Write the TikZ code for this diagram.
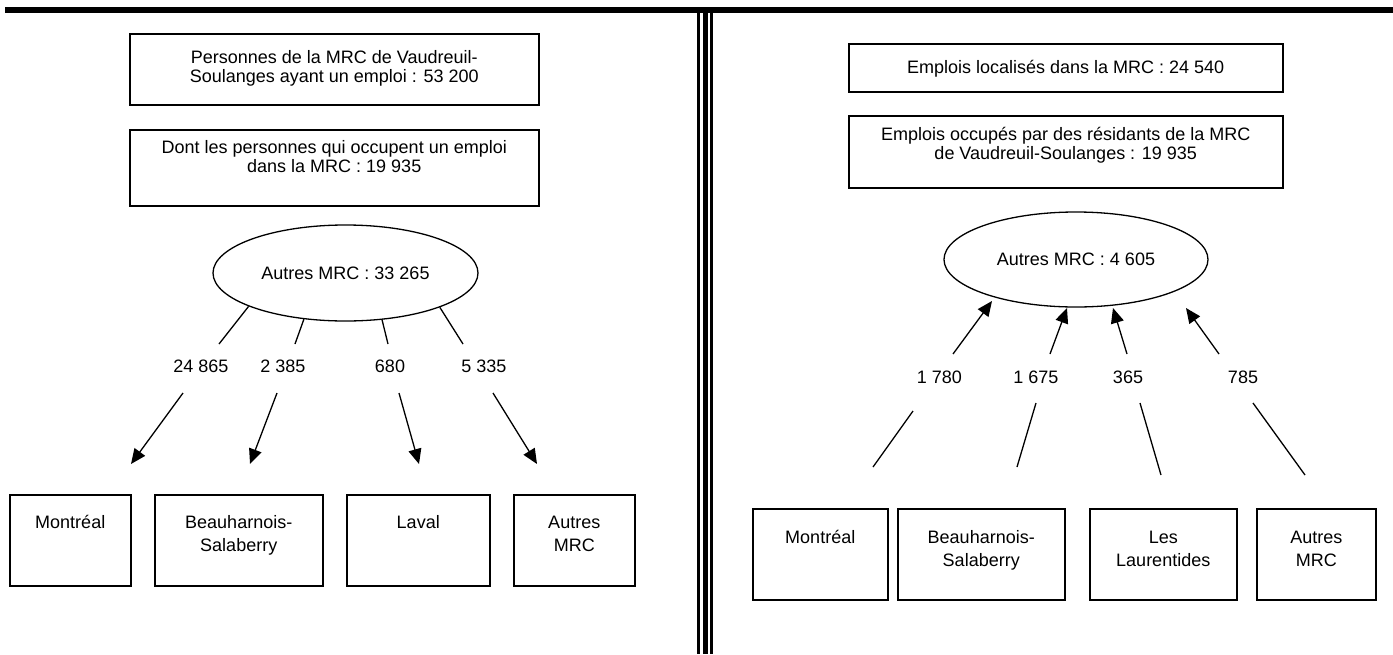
\documentclass[tikz,border=0pt]{standalone}
\usepackage{fontspec}
\setmainfont{Liberation Sans}
\usetikzlibrary{arrows.meta,shapes.geometric}
\begin{document}
\begin{tikzpicture}[x=1pt,y=-1pt]
\tikzset{
 box/.style={draw, line width=1.5pt, inner sep=0pt, anchor=north west},
 txt/.style={inner sep=0pt, align=center, anchor=north, font=\fontsize{18}{19}\selectfont},
 btxt/.style={inner sep=0pt, align=center, anchor=north, font=\fontsize{18}{23}\selectfont},
 ell/.style={draw, ellipse, line width=1.3pt, inner sep=0pt, font=\fontsize{18}{19}\selectfont},
 num/.style={inner sep=0pt, font=\fontsize{18}{19}\selectfont},
 seg/.style={line width=1.3pt},
 arr/.style={line width=1.3pt, -{Triangle[length=15pt,width=13pt]}},
}
\useasboundingbox (0,0) rectangle (1393,654);
% frame bars
\fill (4.5,7) rectangle (1393,13);
\fill (697,13) rectangle (699.5,654);
\fill (702.5,13) rectangle (707.5,654);
\fill (710,13) rectangle (712.5,654);

% ---------- left ----------
\node[box, minimum width=409pt, minimum height=71pt] (A) at (129,33) {};
\node[txt] (At) at ([shift={(0,17)}]A.north) {Personnes de la MRC de Vaudreuil-\\Soulanges ayant un emploi : 53 200};
\node[box, minimum width=409pt, minimum height=76pt] (B) at (129,129) {};
\node[txt] (Bt) at ([shift={(0,11.5)}]B.north) {Dont les personnes qui occupent un emploi\\dans la MRC : 19 935};
\node[ell, minimum width=265pt, minimum height=96pt] (EL) at (345.5,273) {Autres MRC : 33 265};

\coordinate (l1) at (219,344);
\coordinate (l2) at (295,344);
\coordinate (l3) at (388,344);
\coordinate (l4) at (463,344);
\draw[seg] (EL.199) -- (l1);
\draw[seg] (EL.228) -- (l2);
\draw[seg] (EL.308) -- (l3);
\draw[seg] (EL.340) -- (l4);

\node[num] (n1) at (201,366) {24 865};
\node[num] (n2) at (283,366) {2 385};
\node[num] (n3) at (390,366) {680};
\node[num] (n4) at (484,366) {5 335};

\coordinate (a1s) at (183,393); \coordinate (a1e) at (131,464);
\coordinate (a2s) at (277,393); \coordinate (a2e) at (250,464);
\coordinate (a3s) at (399,393); \coordinate (a3e) at (419,464);
\coordinate (a4s) at (493,393); \coordinate (a4e) at (537,464);
\draw[arr] (a1s) -- (a1e);
\draw[arr] (a2s) -- (a2e);
\draw[arr] (a3s) -- (a3e);
\draw[arr] (a4s) -- (a4e);

\node[box, minimum width=121pt, minimum height=91pt] (LM) at (9,494) {};
\node[box, minimum width=168pt, minimum height=91pt] (LB) at (154,494) {};
\node[box, minimum width=143pt, minimum height=91pt] (LL) at (346,494) {};
\node[box, minimum width=121pt, minimum height=91pt] (LA) at (513,494) {};
\node[btxt] (LMt) at ([shift={(0,21.5)}]LM.north) {Montréal};
\node[btxt] (LBt) at ([shift={(0,21.5)}]LB.north) {Beauharnois-\\Salaberry};
\node[btxt] (LLt) at ([shift={(0,21.5)}]LL.north) {Laval};
\node[btxt] (LAt) at ([shift={(0,21.5)}]LA.north) {Autres\\MRC};

% ---------- right ----------
\node[box, minimum width=434pt, minimum height=48pt] (C) at (848,43) {};
\node[txt] (Ct) at ([shift={(0,17.5)}]C.north) {Emplois localisés dans la MRC : 24 540};
\node[box, minimum width=434pt, minimum height=72pt] (D) at (848,115) {};
\node[txt] (Dt) at ([shift={(0,12)}]D.north) {Emplois occupés par des résidants de la MRC\\de Vaudreuil-Soulanges : 19 935};
\node[ell, minimum width=264pt, minimum height=95pt] (ER) at (1076,259.5) {Autres MRC : 4 605};

\coordinate (r1s) at (953,354); \coordinate (r1e) at (992,301);
\coordinate (r2s) at (1050,354); \coordinate (r2e) at (1067,308);
\coordinate (r3s) at (1127,354); \coordinate (r3e) at (1113,308);
\coordinate (r4s) at (1219,354); \coordinate (r4e) at (1186,308);
\draw[arr] (r1s) -- (r1e);
\draw[arr] (r2s) -- (r2e);
\draw[arr] (r3s) -- (r3e);
\draw[arr] (r4s) -- (r4e);

\node[num] (m1) at (939.5,377) {1 780};
\node[num] (m2) at (1036,377) {1 675};
\node[num] (m3) at (1128,377) {365};
\node[num] (m4) at (1243,377) {785};

\coordinate (q1s) at (913,411); \coordinate (q1e) at (873,467);
\coordinate (q2s) at (1036,403); \coordinate (q2e) at (1017,467);
\coordinate (q3s) at (1140,403); \coordinate (q3e) at (1161,475);
\coordinate (q4s) at (1253,403); \coordinate (q4e) at (1305,475);
\draw[seg] (q1s) -- (q1e);
\draw[seg] (q2s) -- (q2e);
\draw[seg] (q3s) -- (q3e);
\draw[seg] (q4s) -- (q4e);

\node[box, minimum width=135pt, minimum height=91pt] (RM) at (752,508) {};
\node[box, minimum width=167pt, minimum height=91pt] (RB) at (897,508) {};
\node[box, minimum width=147pt, minimum height=91pt] (RL) at (1089,508) {};
\node[box, minimum width=119pt, minimum height=91pt] (RA) at (1256,508) {};
\node[btxt] (RMt) at ([shift={(0,22.5)}]RM.north) {Montréal};
\node[btxt] (RBt) at ([shift={(0,22.5)}]RB.north) {Beauharnois-\\Salaberry};
\node[btxt] (RLt) at ([shift={(0,22.5)}]RL.north) {Les\\Laurentides};
\node[btxt] (RAt) at ([shift={(0,22.5)}]RA.north) {Autres\\MRC};
\end{tikzpicture}
\end{document}
